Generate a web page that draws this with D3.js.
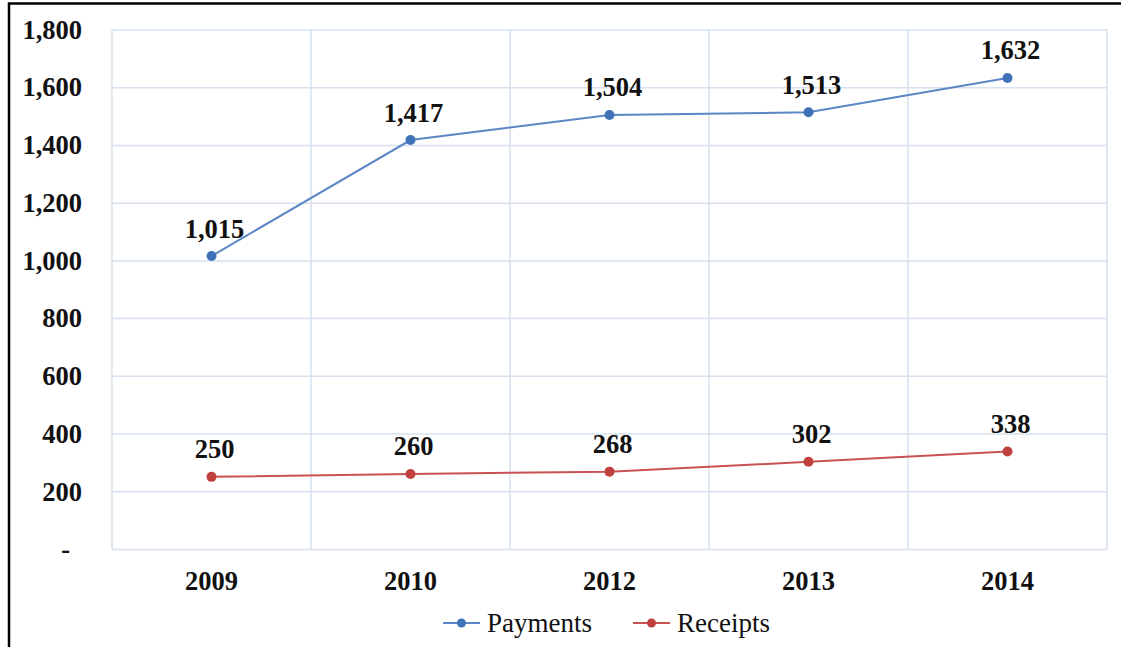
<!DOCTYPE html>
<html><head><meta charset="utf-8">
<script src="https://cdn.jsdelivr.net/npm/d3@7"></script>
<style>
html,body{margin:0;padding:0;background:#fff;}
svg{display:block;}
</style>
</head><body>
<svg id="chart" width="1121" height="647"></svg>
<script>
const years = ["2009", "2010", "2012", "2013", "2014"];
const payments = [1015, 1417, 1504, 1513, 1632];
const receipts = [250, 260, 268, 302, 338];
const yTicks = [0, 200, 400, 600, 800, 1000, 1200, 1400, 1600, 1800];
const seriesNames = ["Payments", "Receipts"];
const seriesColors = ["#3f72b8", "#c0403d"];
const lineColors = ["#5b87c5", "#c95250"];

const svg = d3.select("#chart");
const W = 1121, H = 647;
const m = {left: 112, right: 1107, top: 29.5, bottom: 549};

// frame
svg.append("rect").attr("x", 9).attr("y", 3.5).attr("width", W + 10).attr("height", H + 10)
  .attr("fill", "none").attr("stroke", "#000").attr("stroke-width", 2.5);

const x = d3.scaleBand().domain(years).range([m.left, m.right]).paddingInner(0).paddingOuter(0);
const y = d3.scaleLinear().domain([0, 1800]).range([m.bottom, m.top]);

const fmt = d3.format(",");
const serif = "'Liberation Serif','Times New Roman',serif";
const gridColor = "#d6e0ee";
const fs = 26.5;

// horizontal grid
const yAxis = d3.axisLeft(y).tickValues(yTicks).tickSize(-(m.right - m.left))
  .tickFormat(d => d === 0 ? "-" : fmt(d));
const gy = svg.append("g").attr("transform", `translate(${m.left},0)`).call(yAxis);
gy.select(".domain").remove();
gy.selectAll(".tick line").attr("stroke", gridColor).attr("stroke-width", 1.5);
gy.selectAll(".tick text").attr("x", d => d === 0 ? -42 : -30).attr("dy", "0.33em")
  .attr("font-family", serif).attr("font-weight", "bold")
  .attr("font-size", fs).attr("fill", "#111");

// vertical grid at band boundaries
const bounds = years.map(d => x(d)).concat([x(years[years.length - 1]) + x.bandwidth()]);
svg.append("g").selectAll("line").data(bounds).join("line")
  .attr("x1", d => d).attr("x2", d => d).attr("y1", m.top).attr("y2", m.bottom)
  .attr("stroke", gridColor).attr("stroke-width", 1.5);

// x axis labels
const xAxis = d3.axisBottom(x).tickSize(0).tickPadding(22);
const gx = svg.append("g").attr("transform", `translate(0,${m.bottom})`).call(xAxis);
gx.select(".domain").remove();
gx.selectAll(".tick text").attr("font-family", serif).attr("font-weight", "bold")
  .attr("font-size", fs).attr("fill", "#111");

const cx = d => x(d) + x.bandwidth() / 2;
const data = [payments, receipts];
const line = d3.line().x((d, i) => cx(years[i])).y(d => y(d));

data.forEach((vals, si) => {
  const g = svg.append("g");
  g.append("path").datum(vals).attr("d", line).attr("fill", "none")
    .attr("stroke", lineColors[si]).attr("stroke-width", 2);
  g.selectAll("circle").data(vals).join("circle")
    .attr("cx", (d, i) => cx(years[i])).attr("cy", d => y(d)).attr("r", 5)
    .attr("fill", seriesColors[si]);
  g.selectAll("text").data(vals).join("text")
    .attr("x", (d, i) => cx(years[i]) + 3).attr("y", d => y(d) - 18.5)
    .attr("text-anchor", "middle").attr("font-family", serif).attr("font-weight", "bold")
    .attr("font-size", fs).attr("fill", "#111").text(d => fmt(d));
});

// legend
const legX = [443, 633];
const legY = 623;
seriesNames.forEach((name, i) => {
  const g = svg.append("g").attr("transform", `translate(${legX[i]},${legY})`);
  g.append("line").attr("x1", 0).attr("x2", 37).attr("y1", 0).attr("y2", 0)
    .attr("stroke", lineColors[i]).attr("stroke-width", 2);
  g.append("circle").attr("cx", 18.5).attr("cy", 0).attr("r", 4.5).attr("fill", seriesColors[i]);
  g.append("text").attr("x", 44).attr("y", 9).attr("font-family", serif)
    .attr("font-size", 27).attr("fill", "#111").text(name);
});
</script>
</body></html>
